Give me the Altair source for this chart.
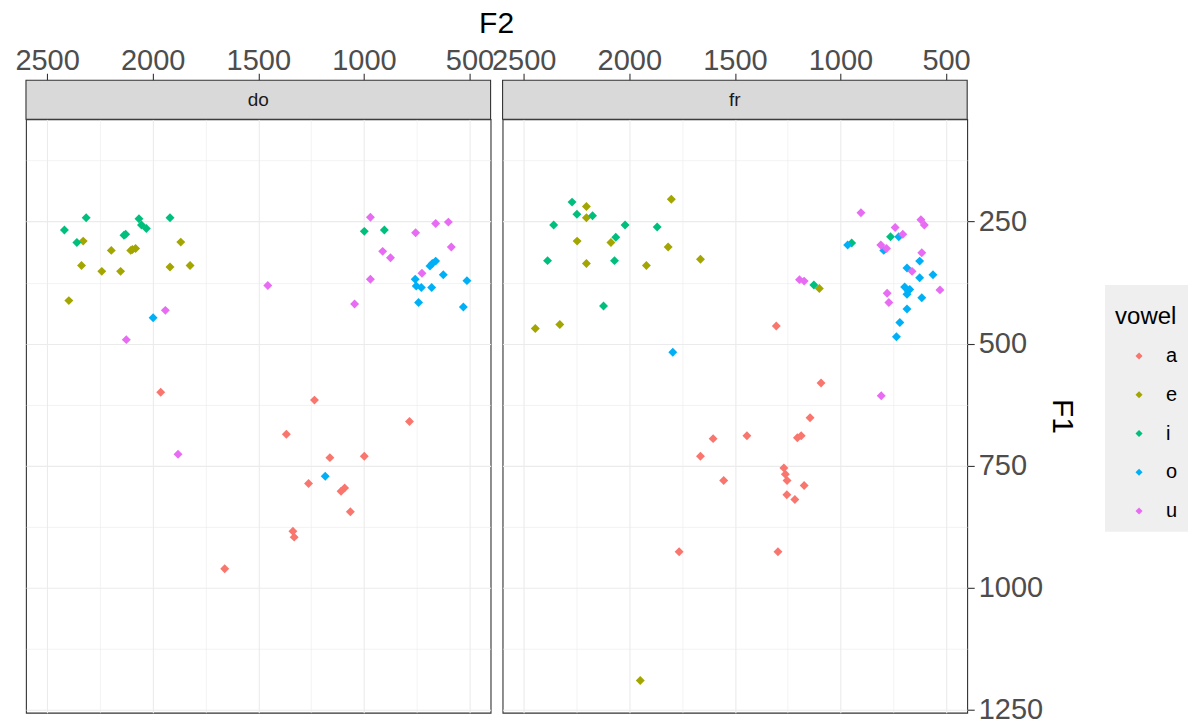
import altair as alt
import pandas as pd

# ---------------- data ----------------
vowels = ["a", "e", "i", "o", "u"]
vowel_colors = ["#F8766D", "#A3A500", "#00BF7D", "#00B0F6", "#E76BF3"]
panels = ["do", "fr"]

x_major = [2500, 2000, 1500, 1000, 500]
x_minor = [2250, 1750, 1250, 750]
y_major = [250, 500, 750, 1000, 1250]
y_minor = [125, 375, 625, 875, 1125]

# panel "do"
do_a_F2 = [1962, 1234, 784, 1367, 1161, 998, 1262, 1091, 1108, 1064, 1336, 1330, 1659]
do_a_F1 = [600, 616, 660, 686, 734, 731, 787, 796, 803, 845, 885, 897, 962]
do_e_F2 = [2329, 2196, 2104, 2081, 2096, 1867, 2337, 2241, 2152, 1918, 1823, 2397]
do_e_F1 = [290, 309, 309, 305, 307, 292, 340, 352, 352, 343, 340, 412]
do_i_F2 = [2315, 2418, 2359, 2065, 2053, 2030, 2128, 2136, 1918, 998, 903]
do_i_F1 = [242, 267, 293, 244, 257, 264, 276, 278, 242, 270, 267]
do_o_F2 = [1998, 660, 676, 687, 624, 757, 752, 728, 679, 741, 512, 529, 1183]
do_o_F1 = [447, 331, 336, 341, 359, 368, 382, 385, 385, 416, 371, 425, 772]
do_u_F2 = [969, 755, 660, 600, 586, 911, 874, 725, 969, 1044, 1455, 1940, 2125, 1880]
do_u_F1 = [241, 273, 254, 251, 302, 311, 324, 356, 368, 419, 381, 432, 492, 727]

# panel "fr"
fr_a_F2 = [1304, 1092, 1144, 1603, 1443, 1204, 1186, 1663, 1268, 1261, 1253, 1553, 1172, 1254, 1216, 1764, 1296]
fr_a_F1 = [464, 581, 652, 695, 689, 693, 689, 731, 755, 768, 781, 781, 791, 810, 820, 927, 927]
fr_e_F2 = [2203, 2203, 1801, 2247, 2087, 1816, 2203, 1919, 1663, 2329, 2445, 1100, 1948]
fr_e_F1 = [219, 242, 204, 290, 293, 302, 336, 340, 327, 461, 469, 387, 1191]
fr_i_F2 = [2271, 2248, 2174, 2358, 2020, 1868, 2064, 2387, 2070, 2122, 763, 947, 1126]
fr_i_F1 = [210, 235, 238, 257, 257, 261, 282, 330, 330, 423, 281, 294, 380]
fr_o_F2 = [1794, 966, 724, 795, 625, 685, 625, 562, 696, 672, 685, 680, 615, 685, 719, 735]
fr_o_F1 = [518, 298, 281, 309, 331, 345, 365, 359, 384, 389, 399, 392, 406, 429, 457, 486]
fr_u_F2 = [903, 741, 705, 619, 603, 615, 809, 782, 661, 779, 771, 529, 1194, 1172, 807]
fr_u_F1 = [232, 262, 276, 246, 257, 314, 298, 305, 352, 397, 416, 390, 369, 372, 607]

series = {
    ("do", "a"): (do_a_F2, do_a_F1), ("do", "e"): (do_e_F2, do_e_F1),
    ("do", "i"): (do_i_F2, do_i_F1), ("do", "o"): (do_o_F2, do_o_F1),
    ("do", "u"): (do_u_F2, do_u_F1),
    ("fr", "a"): (fr_a_F2, fr_a_F1), ("fr", "e"): (fr_e_F2, fr_e_F1),
    ("fr", "i"): (fr_i_F2, fr_i_F1), ("fr", "o"): (fr_o_F2, fr_o_F1),
    ("fr", "u"): (fr_u_F2, fr_u_F1),
}
rows = []
for (p, v), (f2s, f1s) in series.items():
    for f2, f1 in zip(f2s, f1s):
        rows.append({"panel": p, "vowel": v, "F2": f2, "F1": f1})
df = pd.DataFrame(rows)

# ---------------- styling ----------------
FONT = "Liberation Sans"
PW, PH = 465, 594
STRIP = 39
GRID = "#EBEBEB"
DARK = "#333333"

x_scale = alt.Scale(domain=[400, 2600], reverse=True, nice=False, zero=False)
y_scale = alt.Scale(domain=[40, 1257], reverse=True, nice=False, zero=False)

maj_x = "datum.value % 500 === 0"
maj_y = "datum.value % 250 === 0"


def make_panel(name, first):
    x_kw = dict(
        orient="top", values=x_major + x_minor, format="d",
        labelExpr=f"{maj_x} ? datum.label : ''",
        tickOpacity={"condition": {"test": maj_x, "value": 1}, "value": 0},
        gridWidth={"condition": {"test": maj_x, "value": 1.1}, "value": 0.6},
        gridColor=GRID, grid=True, domain=False, offset=STRIP,
        tickSize=7, tickColor=DARK, tickWidth=1.1,
        labelFontSize=29, labelColor="#4D4D4D", labelFont=FONT, labelPadding=-2,
        labelFlush=False, labelOverlap=False,
    )
    if first:
        x_kw.update(title="F2", titleX=470.5, titleY=-57, titleAngle=0,
                    titleAlign="center", titleBaseline="middle",
                    titleFontSize=30, titleFontWeight="normal", titleColor="black",
                    titleFont=FONT)
        x_axis = alt.Axis(**x_kw)
        y_axis = alt.Axis(
            orient="left", values=y_major + y_minor, labels=False, ticks=False,
            domain=False, grid=True, gridColor=GRID,
            gridWidth={"condition": {"test": maj_y, "value": 1.1}, "value": 0.6},
        )
        x_enc = alt.X("F2:Q", scale=x_scale, axis=x_axis)
        y_enc = alt.Y("F1:Q", scale=y_scale, axis=y_axis, title=None)
    else:
        x_axis = alt.Axis(**x_kw)
        y_axis = alt.Axis(
            orient="right", values=y_major + y_minor, format="d",
            labelExpr=f"{maj_y} ? datum.label : ''",
            tickOpacity={"condition": {"test": maj_y, "value": 1}, "value": 0},
            gridWidth={"condition": {"test": maj_y, "value": 1.1}, "value": 0.6},
            gridColor=GRID, grid=True, domain=False,
            tickSize=7, tickColor=DARK, tickWidth=1.1,
            labelFontSize=29, labelColor="#4D4D4D", labelFont=FONT, labelPadding=4,
            labelOverlap=False, labelFlush=False,
            title="F1", titleAngle=90, titleX=94, titleY=PH / 2,
            titleAlign="center", titleBaseline="middle",
            titleFontSize=30, titleFontWeight="normal", titleColor="black", titleFont=FONT,
        )
        x_enc = alt.X("F2:Q", scale=x_scale, axis=x_axis, title=None)
        y_enc = alt.Y("F1:Q", scale=y_scale, axis=y_axis)

    points = alt.Chart(df[df["panel"] == name]).mark_point(
        shape="diamond", filled=True, size=80, opacity=1
    ).encode(
        x=x_enc,
        y=y_enc,
        color=alt.Color("vowel:N", scale=alt.Scale(domain=vowels, range=vowel_colors),
                        legend=alt.Legend(title="vowel")),
    )

    strip_df = pd.DataFrame({"panel": [name]})
    strip = alt.Chart(strip_df).mark_rect(
        fill="#D9D9D9", stroke=DARK, strokeWidth=1.1
    ).encode(x=alt.value(0), x2=alt.value(PW), y=alt.value(-STRIP), y2=alt.value(0))
    strip_txt = alt.Chart(strip_df).mark_text(
        fontSize=19, color="#1A1A1A", font=FONT
    ).encode(x=alt.value(PW / 2), y=alt.value(-STRIP / 2), text="panel:N")

    return alt.layer(points, strip, strip_txt).properties(width=PW, height=PH)


chart = alt.hconcat(
    make_panel("do", True), make_panel("fr", False), spacing=12, bounds="flush"
).properties(
    padding={"left": 14, "top": 7, "right": 0, "bottom": 0}
).configure(
    font=FONT
).configure_view(
    stroke=DARK, strokeWidth=1.1
).configure_legend(
    orient="none", legendX=1080, legendY=166,
    fillColor="#EFEFEF", padding=10,
    titleFontSize=24, titleFontWeight="normal", titleColor="black", titleFont=FONT,
    titleBaseline="line-top", titleLineHeight=44,
    titlePadding=27,
    labelFontSize=20, labelColor="black", labelFont=FONT,
    symbolType="diamond", symbolSize=50, rowPadding=18.8,
    symbolOffset=14, labelOffset=17,
)

chart.save("out.html", embed_options={"renderer": "svg", "actions": False})
